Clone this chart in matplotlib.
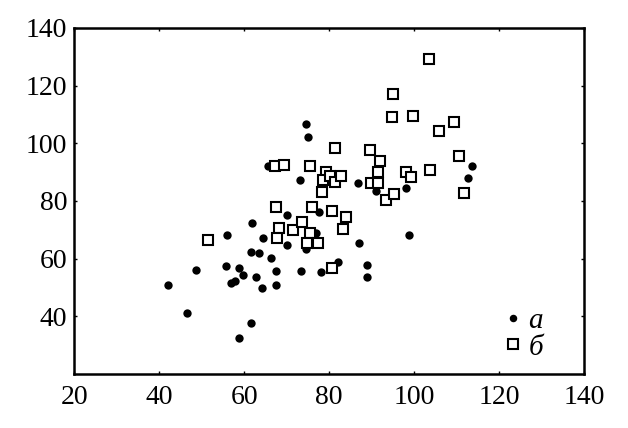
import numpy as np
import matplotlib
matplotlib.use('Agg')
import matplotlib.pyplot as plt

# group "а" (filled dots)
a_x = [42.0, 46.6, 48.7, 55.9, 55.7, 56.9, 57.8, 58.7, 59.7, 58.8,
       61.6, 61.9, 61.6, 62.7, 63.6, 64.4, 64.3, 66.4, 67.4, 67.4,
       70.0, 70.1, 73.1, 73.5, 74.5, 75.0, 74.6, 76.9, 77.7, 78.1,
       82.0, 86.8, 87.0, 89.0, 89.0, 91.0, 98.1, 98.9, 112.6, 113.7,
       65.7]
a_y = [50.7, 41.0, 56.1, 68.3, 57.6, 51.7, 52.4, 56.7, 54.4, 32.4,
       37.8, 72.3, 62.4, 53.8, 61.8, 67.0, 50.0, 60.3, 55.6, 50.9,
       75.3, 64.6, 87.1, 55.6, 106.6, 102.2, 63.5, 69.0, 76.1, 55.4,
       58.9, 86.2, 65.5, 57.7, 53.5, 83.3, 84.4, 68.2, 87.9, 92.0,
       92.0]

# group "б" (open squares)
b_x = [51.6, 67.2, 69.3, 67.5, 68.3, 67.7, 71.6, 73.6, 75.6, 76.1,
       75.6, 74.9, 77.3, 81.5, 79.3, 78.6, 78.4, 80.3, 81.5, 82.7,
       80.8, 83.9, 83.3, 80.6, 89.6, 92.0, 91.5, 89.9, 91.6, 93.3,
       95.2, 95.1, 94.9, 99.7, 98.2, 99.2, 103.5, 103.7, 105.8, 109.4,
       110.5, 111.8]
b_y = [66.6, 92.1, 92.6, 77.9, 70.6, 67.2, 70.0, 72.6, 92.2, 77.9,
       69.0, 65.3, 65.3, 98.4, 90.0, 87.2, 83.2, 88.7, 86.7, 88.7,
       76.5, 74.6, 70.2, 56.8, 97.6, 93.9, 90.1, 86.3, 86.3, 80.4,
       82.4, 117.1, 109.1, 109.6, 90.0, 88.4, 129.3, 90.8, 104.2, 107.3,
       95.7, 82.7]

x_ticks = [20, 40, 60, 80, 100, 120, 140]
y_ticks = [40, 60, 80, 100, 120, 140]

plt.rcParams['font.family'] = ['Liberation Serif', 'DejaVu Serif']

fig = plt.figure(figsize=(6.28, 4.28), dpi=100)
ax = fig.add_axes([0.118, 0.126, 0.812, 0.809])

ax.plot(a_x, a_y, 'o', color='black', markersize=6, markeredgewidth=0, label='а')
ax.plot(b_x, b_y, 's', markerfacecolor='white', markeredgecolor='black',
        markersize=7.5, markeredgewidth=1.5, label='б')

ax.set_xlim(20, 140)
ax.set_ylim(20, 140)
ax.set_xticks(x_ticks)
ax.set_yticks(y_ticks)
ax.tick_params(direction='in', length=2.5, width=1, top=True, right=True,
               labelsize=20)
ax.tick_params(axis='x', pad=8)
ax.tick_params(axis='y', pad=5)
for sp in ax.spines.values():
    sp.set_linewidth(1.8)

ax.legend(loc='lower right', bbox_to_anchor=(0.96, -0.02), frameon=False,
          handlelength=0.5, handletextpad=0.3, labelspacing=0.0,
          markerscale=0.9, borderaxespad=0.3,
          prop={'family': 'Liberation Serif', 'style': 'italic', 'size': 21})

fig.savefig('out.png', dpi=100)
